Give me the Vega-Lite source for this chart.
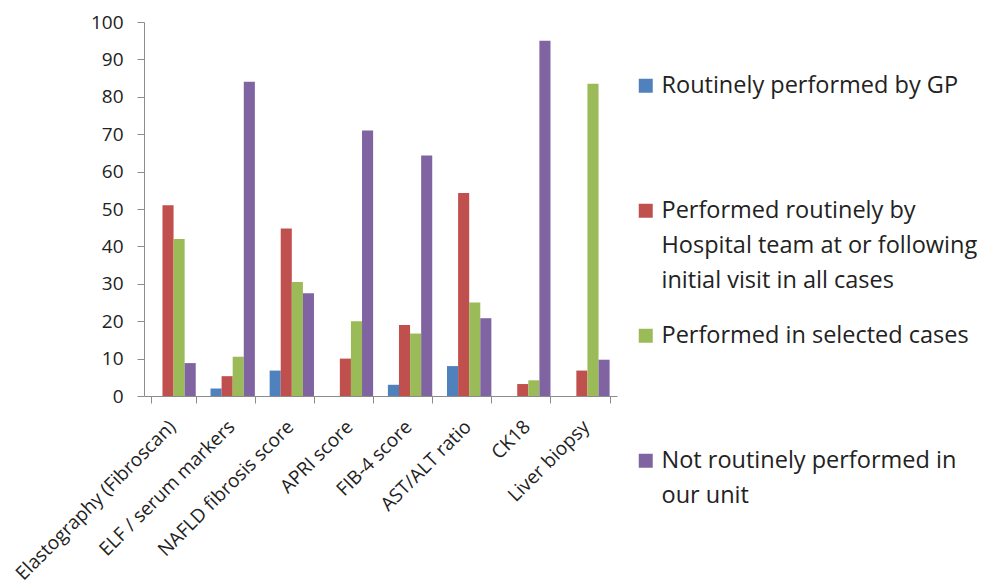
{
  "$schema": "https://vega.github.io/schema/vega-lite/v6.json",
  "autosize": {"type": "none"},
  "width": 473,
  "height": 374,
  "padding": {"left": 144, "top": 22, "right": 367, "bottom": 191},
  "background": "white",
  "config": {
    "view": {"stroke": null},
    "font": "Open Sans",
    "style": {"guide-label": {"lineHeight": 35}}
  },
  "data": {
    "values": [
      {"test": "Elastography (Fibroscan)", "series": "Routinely performed by GP", "value": 0},
      {"test": "Elastography (Fibroscan)", "series": "Performed routinely by Hospital team at or following initial visit in all cases", "value": 51},
      {"test": "Elastography (Fibroscan)", "series": "Performed in selected cases", "value": 42},
      {"test": "Elastography (Fibroscan)", "series": "Not routinely performed in our unit", "value": 8.8},
      {"test": "ELF / serum markers", "series": "Routinely performed by GP", "value": 2},
      {"test": "ELF / serum markers", "series": "Performed routinely by Hospital team at or following initial visit in all cases", "value": 5.3},
      {"test": "ELF / serum markers", "series": "Performed in selected cases", "value": 10.5},
      {"test": "ELF / serum markers", "series": "Not routinely performed in our unit", "value": 84},
      {"test": "NAFLD fibrosis score", "series": "Routinely performed by GP", "value": 6.8},
      {"test": "NAFLD fibrosis score", "series": "Performed routinely by Hospital team at or following initial visit in all cases", "value": 44.8},
      {"test": "NAFLD fibrosis score", "series": "Performed in selected cases", "value": 30.5},
      {"test": "NAFLD fibrosis score", "series": "Not routinely performed in our unit", "value": 27.5},
      {"test": "APRI score", "series": "Routinely performed by GP", "value": 0},
      {"test": "APRI score", "series": "Performed routinely by Hospital team at or following initial visit in all cases", "value": 10},
      {"test": "APRI score", "series": "Performed in selected cases", "value": 20},
      {"test": "APRI score", "series": "Not routinely performed in our unit", "value": 71},
      {"test": "FIB-4 score", "series": "Routinely performed by GP", "value": 3},
      {"test": "FIB-4 score", "series": "Performed routinely by Hospital team at or following initial visit in all cases", "value": 19},
      {"test": "FIB-4 score", "series": "Performed in selected cases", "value": 16.7},
      {"test": "FIB-4 score", "series": "Not routinely performed in our unit", "value": 64.3},
      {"test": "AST/ALT ratio", "series": "Routinely performed by GP", "value": 8},
      {"test": "AST/ALT ratio", "series": "Performed routinely by Hospital team at or following initial visit in all cases", "value": 54.3},
      {"test": "AST/ALT ratio", "series": "Performed in selected cases", "value": 25},
      {"test": "AST/ALT ratio", "series": "Not routinely performed in our unit", "value": 20.8},
      {"test": "CK18", "series": "Routinely performed by GP", "value": 0},
      {"test": "CK18", "series": "Performed routinely by Hospital team at or following initial visit in all cases", "value": 3.2},
      {"test": "CK18", "series": "Performed in selected cases", "value": 4.2},
      {"test": "CK18", "series": "Not routinely performed in our unit", "value": 95},
      {"test": "Liver biopsy", "series": "Routinely performed by GP", "value": 0},
      {"test": "Liver biopsy", "series": "Performed routinely by Hospital team at or following initial visit in all cases", "value": 6.8},
      {"test": "Liver biopsy", "series": "Performed in selected cases", "value": 83.5},
      {"test": "Liver biopsy", "series": "Not routinely performed in our unit", "value": 9.7}
    ]
  },
  "mark": {"type": "bar"},
  "encoding": {
    "x": {
      "field": "test",
      "type": "nominal",
      "sort": null,
      "scale": {"paddingInner": 0.25, "paddingOuter": 0.125},
      "axis": {
        "title": null,
        "tickBand": "extent",
        "labelAngle": -45,
        "labelFontSize": 19,
        "labelColor": "#222222",
        "labelPadding": 14,
        "labelOffset": -8,
        "domainColor": "#8c8c8c",
        "tickColor": "#8c8c8c",
        "tickSize": 7,
        "labelLimit": 400
      }
    },
    "xOffset": {
      "field": "series",
      "type": "nominal",
      "sort": null,
      "scale": {"domain": ["Routinely performed by GP", "Performed routinely by Hospital team at or following initial visit in all cases", "Performed in selected cases", "Not routinely performed in our unit"], "paddingInner": 0, "paddingOuter": 0}
    },
    "y": {
      "field": "value",
      "type": "quantitative",
      "scale": {"domain": [0, 100], "nice": false},
      "axis": {
        "title": null,
        "values": [0, 10, 20, 30, 40, 50, 60, 70, 80, 90, 100],
        "grid": false,
        "labelFontSize": 19,
        "labelColor": "#222222",
        "labelPadding": 14,
        "domainColor": "#8c8c8c",
        "tickColor": "#8c8c8c",
        "tickSize": 7
      }
    },
    "color": {
      "field": "series",
      "type": "nominal",
      "scale": {
        "domain": ["Routinely performed by GP", "Performed routinely by Hospital team at or following initial visit in all cases", "Performed in selected cases", "Not routinely performed in our unit"],
        "range": ["#4F81BD", "#C0504D", "#9BBB59", "#8064A2"]
      },
      "legend": {
        "title": null,
        "orient": "none",
        "legendX": 490,
        "legendY": 52,
        "padding": 0,
        "symbolType": "square",
        "symbolSize": 196,
        "symbolStrokeWidth": 0,
        "labelFontSize": 23.5,
        "labelColor": "#222222",
        "labelOffset": 4,
        "labelLimit": 400,
        "rowPadding": 30,
        "labelExpr": "datum.label == 'Performed routinely by Hospital team at or following initial visit in all cases' ? ['Performed routinely by', 'Hospital team at or following', 'initial visit in all cases'] : datum.label == 'Not routinely performed in our unit' ? ['Not routinely performed in', 'our unit'] : [datum.label, '', '']"
      }
    }
  }
}
